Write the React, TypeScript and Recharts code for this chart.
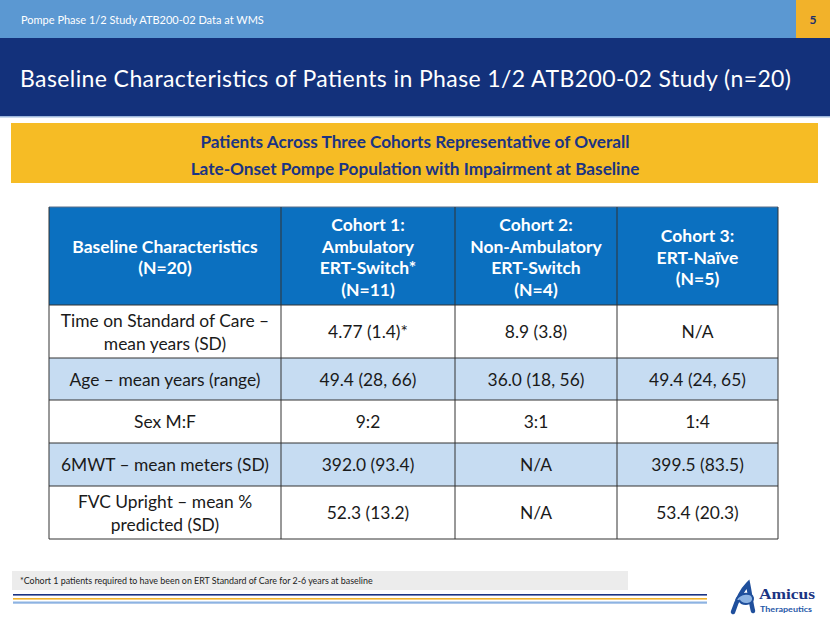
import React from "react";
import { ComposedChart, Customized } from "recharts";

// table content
const headerLabels = [
  ["Baseline Characteristics", "(N=20)"],
  ["Cohort 1:", "Ambulatory", "ERT-Switch*", "(N=11)"],
  ["Cohort 2:", "Non-Ambulatory", "ERT-Switch", "(N=4)"],
  ["Cohort 3:", "ERT-Naïve", "(N=5)"],
];
const characteristics = [
  ["Time on Standard of Care –", "mean years (SD)"],
  ["Age – mean years (range)"],
  ["Sex M:F"],
  ["6MWT – mean meters (SD)"],
  ["FVC Upright – mean %", "predicted (SD)"],
];
const cohort1 = ["4.77 (1.4)*", "49.4 (28, 66)", "9:2", "392.0 (93.4)", "52.3 (13.2)"];
const cohort2 = ["8.9 (3.8)", "36.0 (18, 56)", "3:1", "N/A", "N/A"];
const cohort3 = ["N/A", "49.4 (24, 65)", "1:4", "399.5 (83.5)", "53.4 (20.3)"];

const slideTag = "Pompe Phase 1/2 Study ATB200-02 Data at WMS";
const pageNo = "5";
const title = "Baseline Characteristics of Patients in Phase 1/2 ATB200-02 Study (n=20)";
const banner = [
  "Patients Across Three Cohorts Representative of Overall",
  "Late-Onset Pompe Population with Impairment at Baseline",
];
const footnote =
  "*Cohort 1 patients required to have been on ERT Standard of Care for 2-6 years at baseline";

// layout
const W = 830;
const H = 623;
const FONT = "Lato, 'Open Sans', sans-serif";
const colX = [49, 281, 455, 617, 778];
const rowY = [207, 305, 358, 400, 443, 486, 539];

const rows = characteristics.map((c, i) => ({
  label: c,
  cells: [cohort1[i], cohort2[i], cohort3[i]],
}));

const Lines = ({ x, cy, lines, step, ...rest }: any) => {
  const start = cy - ((lines.length - 1) * step) / 2;
  return (
    <>
      {lines.map((t: string, i: number) => (
        <text
          key={i}
          x={x}
          y={start + i * step}
          textAnchor="middle"
          dominantBaseline="central"
          fontFamily={FONT}
          {...rest}
        >
          {t}
        </text>
      ))}
    </>
  );
};

const Slide = () => {
  return (
    <g>
      {/* top strip */}
      <rect x={0} y={0} width={W} height={38} fill="#5b98d2" />
      <rect x={796} y={0} width={34} height={38} fill="#f2b22a" />
      <text x={21} y={19} dominantBaseline="central" fontSize={11} fill="#fff" fontFamily={FONT}>
        {slideTag}
      </text>
      <text x={813} y={19} textAnchor="middle" dominantBaseline="central" fontSize={12} fontWeight={700} fill="#1b2f6e" fontFamily={FONT}>
        {pageNo}
      </text>
      <rect x={0} y={38} width={W} height={78} fill="#13317b" />
      <rect x={0} y={116} width={W} height={1.5} fill="#9db7dc" />
      <text x={20} y={78} dominantBaseline="central" fontSize={23} fill="#fff" fontFamily={FONT} textLength={771} lengthAdjust="spacing">
        {title}
      </text>

      {/* banner */}
      <rect x={11} y={123} width={807} height={60} fill="#f6bc25" />
      <text x={415} y={141} textAnchor="middle" dominantBaseline="central" fontSize={17.2} fontWeight={700} fill="#1b3483" fontFamily={FONT}>
        {banner[0]}
      </text>
      <text x={415} y={168} textAnchor="middle" dominantBaseline="central" fontSize={17.2} fontWeight={700} fill="#1b3483" fontFamily={FONT}>
        {banner[1]}
      </text>

      {/* table */}
      <rect x={colX[0]} y={rowY[0]} width={colX[4] - colX[0]} height={rowY[1] - rowY[0]} fill="#0b70c0" />
      {rows.map((r, i) =>
        i % 2 === 1 ? (
          <rect key={i} x={colX[0]} y={rowY[i + 1]} width={colX[4] - colX[0]} height={rowY[i + 2] - rowY[i + 1]} fill="#c6dcf2" />
        ) : null
      )}
      {headerLabels.map((h, j) => (
        <Lines key={j} x={(colX[j] + colX[j + 1]) / 2} cy={(rowY[0] + rowY[1]) / 2 + 1} lines={h} step={21.5} fontSize={17.5} fontWeight={700} fill="#fff" />
      ))}
      {rows.map((r, i) => {
        const cy = (rowY[i + 1] + rowY[i + 2]) / 2;
        return (
          <g key={i}>
            <Lines x={(colX[0] + colX[1]) / 2} cy={cy} lines={r.label} step={23} fontSize={17.4} fill="#1a1a1a" />
            {r.cells.map((c, j) => (
              <Lines key={j} x={(colX[j + 1] + colX[j + 2]) / 2} cy={cy} lines={[c]} step={23} fontSize={17.4} fill="#1a1a1a" />
            ))}
          </g>
        );
      })}
      {rowY.map((y, i) => (
        <line key={`h${i}`} x1={colX[0]} x2={colX[4]} y1={y} y2={y} stroke={i === 0 ? "#5a6e88" : "#333"} strokeWidth={1} />
      ))}
      {colX.map((x, i) => (
        <line key={`v${i}`} x1={x} x2={x} y1={rowY[0]} y2={rowY[rowY.length - 1]} stroke="#333" strokeWidth={1} />
      ))}

      {/* footnote */}
      <rect x={12} y={571} width={616} height={19} fill="#ececec" />
      <text x={20} y={580.5} dominantBaseline="central" fontSize={8.9} fill="#222" fontFamily={FONT}>
        {footnote}
      </text>
      <rect x={13} y={594} width={694} height={1.6} fill="#1b3483" />
      <rect x={13} y={598} width={694} height={1.6} fill="#f2b22a" />
      <rect x={13} y={601.5} width={694} height={2.2} fill="#8db3e2" />

      {/* logo */}
      <path d="M733 612 C737 600 742 590 748 584 C750 594 751 603 753 611" fill="none" stroke="#1f4f9c" strokeWidth={4.5} strokeLinecap="round" />
      <path d="M736 600 C740 592 752 592 753 598 C754 605 742 606 739 600" fill="#8db3e2" stroke="#1f4f9c" strokeWidth={2} />
      <text x={759} y={599} fontSize={15.5} fontWeight={700} fill="#1b3483" fontFamily="'Liberation Serif', 'DejaVu Serif', serif" textLength={56} lengthAdjust="spacingAndGlyphs">
        Amicus
      </text>
      <text x={760} y={612} fontSize={7} fontWeight={700} fill="#1f58a8" fontFamily={FONT} textLength={52} lengthAdjust="spacingAndGlyphs">
        Therapeutics
      </text>
    </g>
  );
};

export default function App() {
  return (
    <div style={{ position: "absolute", left: 0, top: 0, width: W, height: H, background: "#fff" }}>
      <ComposedChart width={W} height={H} data={rows} margin={{ top: 0, right: 0, bottom: 0, left: 0 }}>
        <Customized component={<Slide />} />
      </ComposedChart>
    </div>
  );
}
